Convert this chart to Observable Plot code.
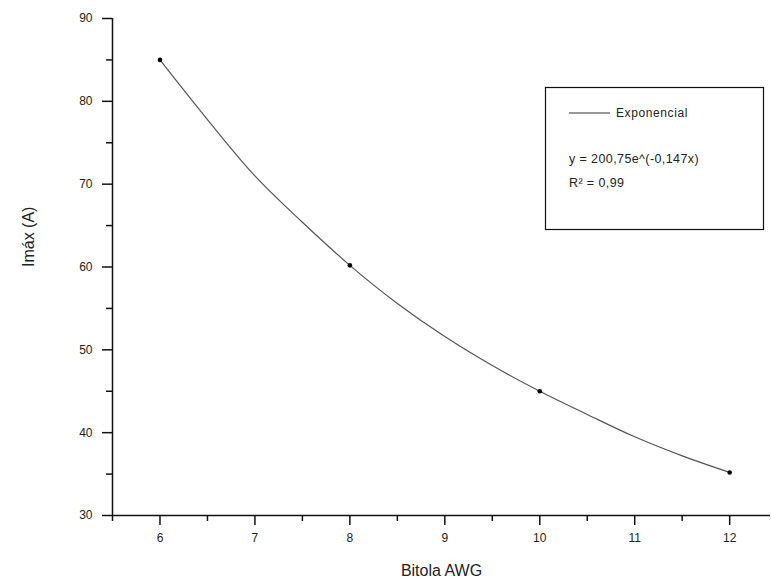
<!DOCTYPE html>
<html>
<head>
<meta charset="utf-8">
<script src="https://cdn.jsdelivr.net/npm/d3@7"></script>
<script src="https://cdn.jsdelivr.net/npm/@observablehq/plot@0.6"></script>
<style>
  html, body { margin: 0; padding: 0; background: #fff; }
  #chart svg { display: block; }
</style>
</head>
<body>
<div id="chart"></div>
<script>
// Measured points
const gauge = [6, 8, 10, 12];
const imax = [85, 60.2, 45, 35.2];

// Fitted exponential curve
const curveX = [6, 6.5, 7, 7.5, 8, 8.5, 9, 9.5, 10, 10.5, 11, 11.5, 12];
const curveY = [85, 77.8, 71.0, 65.4, 60.2, 55.6, 51.6, 48.1, 45.0, 42.2, 39.5, 37.2, 35.2];

const xTicks = [6, 7, 8, 9, 10, 11, 12];
const xMinor = [5.5, 6.5, 7.5, 8.5, 9.5, 10.5, 11.5, 12.5];
const yTicks = [30, 40, 50, 60, 70, 80, 90];
const yMinor = [35, 45, 55, 65, 75, 85];

const legendTitle = "Exponencial";
const legendEq = "y = 200,75e^(-0,147x)";
const legendR2 = "R² = 0,99";
const xLabel = "Bitola AWG";
const yLabel = "Imáx (A)";

const points = gauge.map((g, i) => ({x: g, y: imax[i]}));
const curve = curveX.map((g, i) => ({x: g, y: curveY[i]}));

const font = "'Liberation Sans', Arial, sans-serif";

const plot = Plot.plot({
  width: 771,
  height: 586,
  marginLeft: 112,
  marginRight: 1,
  marginTop: 18,
  marginBottom: 71,
  style: {fontFamily: font, background: "#fff", color: "#222"},
  x: {domain: [5.5, 12.43], label: null},
  y: {domain: [30, 90], label: null},
  marks: [
    Plot.axisX({ticks: xTicks, tickFormat: d => String(d), tickSize: 10, tickPadding: 8, fontSize: 12, label: null, stroke: "#111", strokeWidth: 1.5}),
    Plot.axisX({ticks: xMinor, tickSize: 6, text: null, label: null, stroke: "#111", strokeWidth: 1.5}),
    Plot.axisY({ticks: yTicks, tickFormat: d => String(d), tickSize: 10, tickPadding: 10, fontSize: 12, label: null, stroke: "#111", strokeWidth: 1.5}),
    Plot.axisY({ticks: yMinor, tickSize: 6, text: null, label: null, stroke: "#111", strokeWidth: 1.5}),
    Plot.ruleY([30], {stroke: "#111", strokeWidth: 1.5}),
    Plot.ruleX([5.5], {stroke: "#111", strokeWidth: 1.5}),
    Plot.line(curve, {x: "x", y: "y", curve: "catmull-rom", stroke: "#555", strokeWidth: 1.2}),
    Plot.dot(points, {x: "x", y: "y", r: 2.3, fill: "#000", stroke: "none"}),
    Plot.text([xLabel], {frameAnchor: "bottom", dy: 60, fontSize: 16, fill: "#222", text: d => d}),
    Plot.text([yLabel], {frameAnchor: "left", dx: -84, rotate: -90, fontSize: 16, fill: "#222", text: d => d})
  ]
});

document.getElementById("chart").appendChild(plot);

// Legend box
const svg = d3.select(plot);
const g = svg.append("g").attr("font-family", font).attr("fill", "#222").attr("text-anchor", "start");
g.append("rect").attr("x", 545.5).attr("y", 87.5).attr("width", 218).attr("height", 142)
  .attr("fill", "#fff").attr("stroke", "#111").attr("stroke-width", 1.2);
g.append("line").attr("x1", 569).attr("x2", 610).attr("y1", 113).attr("y2", 113)
  .attr("stroke", "#333").attr("stroke-width", 1.2);
g.append("text").attr("x", 616).attr("y", 117).attr("font-size", 12).attr("letter-spacing", 0.6).text(legendTitle);
g.append("text").attr("x", 569).attr("y", 163).attr("font-size", 12.5).attr("letter-spacing", 0.4).text(legendEq);
g.append("text").attr("x", 569).attr("y", 187).attr("font-size", 12.5).attr("letter-spacing", 0.4).text(legendR2);
</script>
</body>
</html>
